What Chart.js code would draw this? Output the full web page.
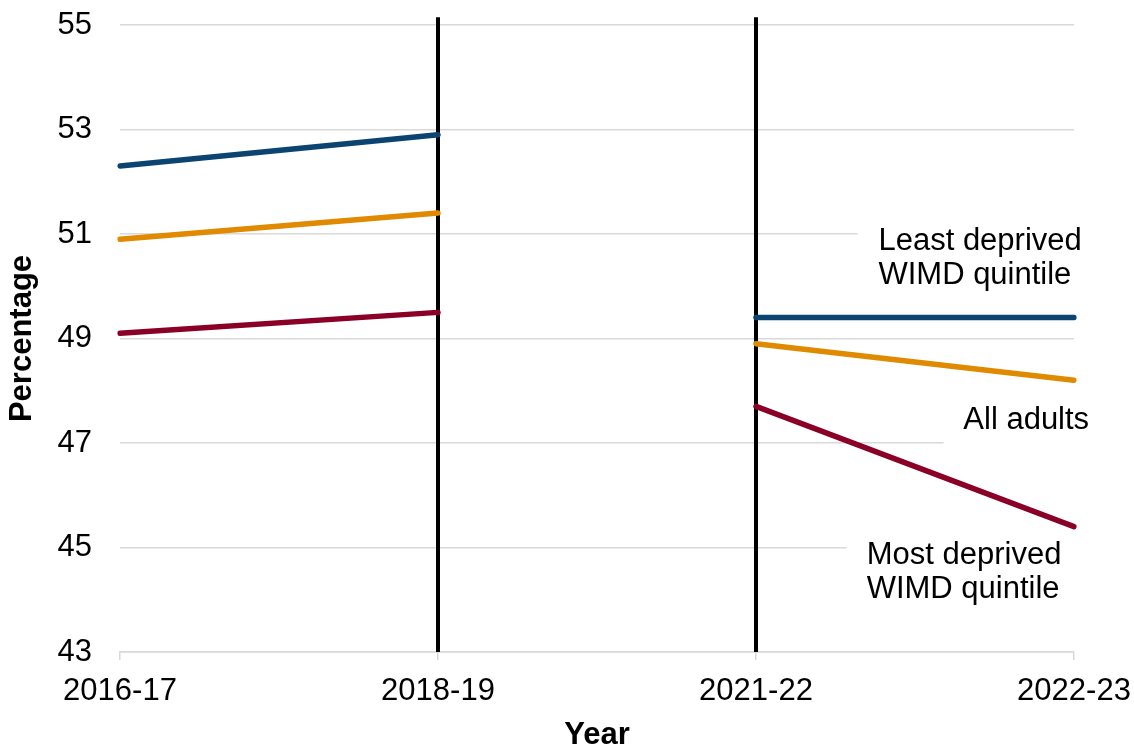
<!DOCTYPE html>
<html>
<head>
<meta charset="utf-8">
<script src="https://cdn.jsdelivr.net/npm/chart.js@4"></script>
<style>
  html, body { margin: 0; padding: 0; background: #fff; }
  #wrap { width: 1134px; height: 749px; }
</style>
</head>
<body>
<div id="wrap"><canvas id="chart" width="1134" height="749"></canvas></div>
<script>
const years = ["2016-17", "2018-19", "2021-22", "2022-23"];
const leastDeprived = [52.3, 52.9, 49.4, 49.4];
const allAdults = [50.9, 51.4, 48.9, 48.2];
const mostDeprived = [49.1, 49.5, 47.7, 45.4];
const yTicks = [43, 45, 47, 49, 51, 53, 55];
const breakYears = ["2018-19", "2021-22"];

const FONT = "'Liberation Sans', Arial, sans-serif";
const FS = 31;

// split each series at the break between 2018-19 and 2021-22
function before(arr) { return arr.map((v, i) => (i < 2 ? v : null)); }
function after(arr) { return arr.map((v, i) => (i >= 2 ? v : null)); }

function seriesSet(label, arr, color) {
  const base = {
    label: label,
    borderColor: color,
    backgroundColor: color,
    borderWidth: 5.5,
    borderCapStyle: "round",
    pointRadius: 0,
    spanGaps: false,
    fill: false,
  };
  return [
    Object.assign({}, base, { data: before(arr) }),
    Object.assign({}, base, { data: after(arr) }),
  ];
}

const breakSets = breakYears.map((yr) => ({
  label: "break " + yr,
  data: [{ x: yr, y: 55.15 }, { x: yr, y: 43 }],
  borderColor: "#000",
  borderWidth: 4,
  pointRadius: 0,
  clip: false,
}));

// text notes with white boxes behind them (they cut the gridlines)
const notes = [
  { lines: ["Least deprived", "WIMD quintile"], frac: 0.385, y: 50.85, boxFrac: 0.32 },
  { lines: ["All adults"], frac: 0.652, y: 47.44, boxFrac: 0.59 },
  { lines: ["Most deprived", "WIMD quintile"], frac: 0.348, y: 44.84, boxFrac: 0.285 },
];

const notesPlugin = {
  id: "notes",
  beforeDatasetsDraw(chart) {
    const { ctx, scales: { x, y } } = chart;
    const x0 = x.getPixelForValue(2);
    const x1 = x.getPixelForValue(3);
    ctx.save();
    ctx.font = FS + "px " + FONT;
    ctx.textBaseline = "middle";
    ctx.textAlign = "left";
    notes.forEach((n) => {
      const tx = x0 + (x1 - x0) * n.frac;
      const bx = x0 + (x1 - x0) * n.boxFrac;
      const ty = y.getPixelForValue(n.y);
      const lh = 34;
      ctx.fillStyle = "#fff";
      ctx.fillRect(bx, ty - 24, 1134 - bx, lh * n.lines.length + 14);
      ctx.fillStyle = "#000";
      n.lines.forEach((t, i) => ctx.fillText(t, tx, ty + i * lh));
    });
    ctx.restore();
  },
};

new Chart(document.getElementById("chart"), {
  type: "line",
  data: {
    labels: years,
    datasets: [
      ...seriesSet("Least deprived WIMD quintile", leastDeprived, "#0b4470"),
      ...seriesSet("All adults", allAdults, "#df8a00"),
      ...seriesSet("Most deprived WIMD quintile", mostDeprived, "#8a0026"),
      ...breakSets,
    ],
  },
  options: {
    responsive: false,
    animation: false,
    layout: { padding: { top: 25, right: 60, left: 0, bottom: 0 } },
    plugins: {
      legend: { display: false },
      tooltip: { enabled: false },
    },
    scales: {
      x: {
        type: "category",
        offset: false,
        grid: {
          drawOnChartArea: false,
          drawTicks: true,
          tickLength: 8,
          color: "#d9d9d9",
          lineWidth: 1.5,
        },
        border: { display: true, color: "#d9d9d9", width: 1.5 },
        ticks: {
          color: "#000",
          font: { family: FONT, size: FS },
          padding: 13,
          maxRotation: 0,
          autoSkip: false,
        },
        title: {
          display: true,
          text: "Year",
          color: "#000",
          font: { family: FONT, size: FS, weight: "bold", lineHeight: 1 },
          padding: { top: 0, bottom: -2 },
        },
        afterFit(scale) {
          scale.height = 97;
          scale.paddingLeft = 0;
          scale.paddingRight = 0;
        },
      },
      y: {
        min: 43,
        max: 55,
        afterBuildTicks(scale) { scale.ticks = yTicks.map((v) => ({ value: v })); },
        grid: { color: "#d9d9d9", lineWidth: 1.5, drawTicks: false },
        border: { display: false },
        ticks: {
          color: "#000",
          font: { family: FONT, size: FS },
          padding: 28,
        },
        title: {
          display: true,
          text: "Percentage",
          color: "#000",
          font: { family: FONT, size: FS, weight: "bold", lineHeight: 1.2 },
          padding: { top: 4, bottom: 0 },
        },
        afterFit(scale) {
          scale.width = 120;
          scale.paddingTop = 0;
          scale.paddingBottom = 0;
        },
      },
    },
  },
  plugins: [notesPlugin],
});
</script>
</body>
</html>
